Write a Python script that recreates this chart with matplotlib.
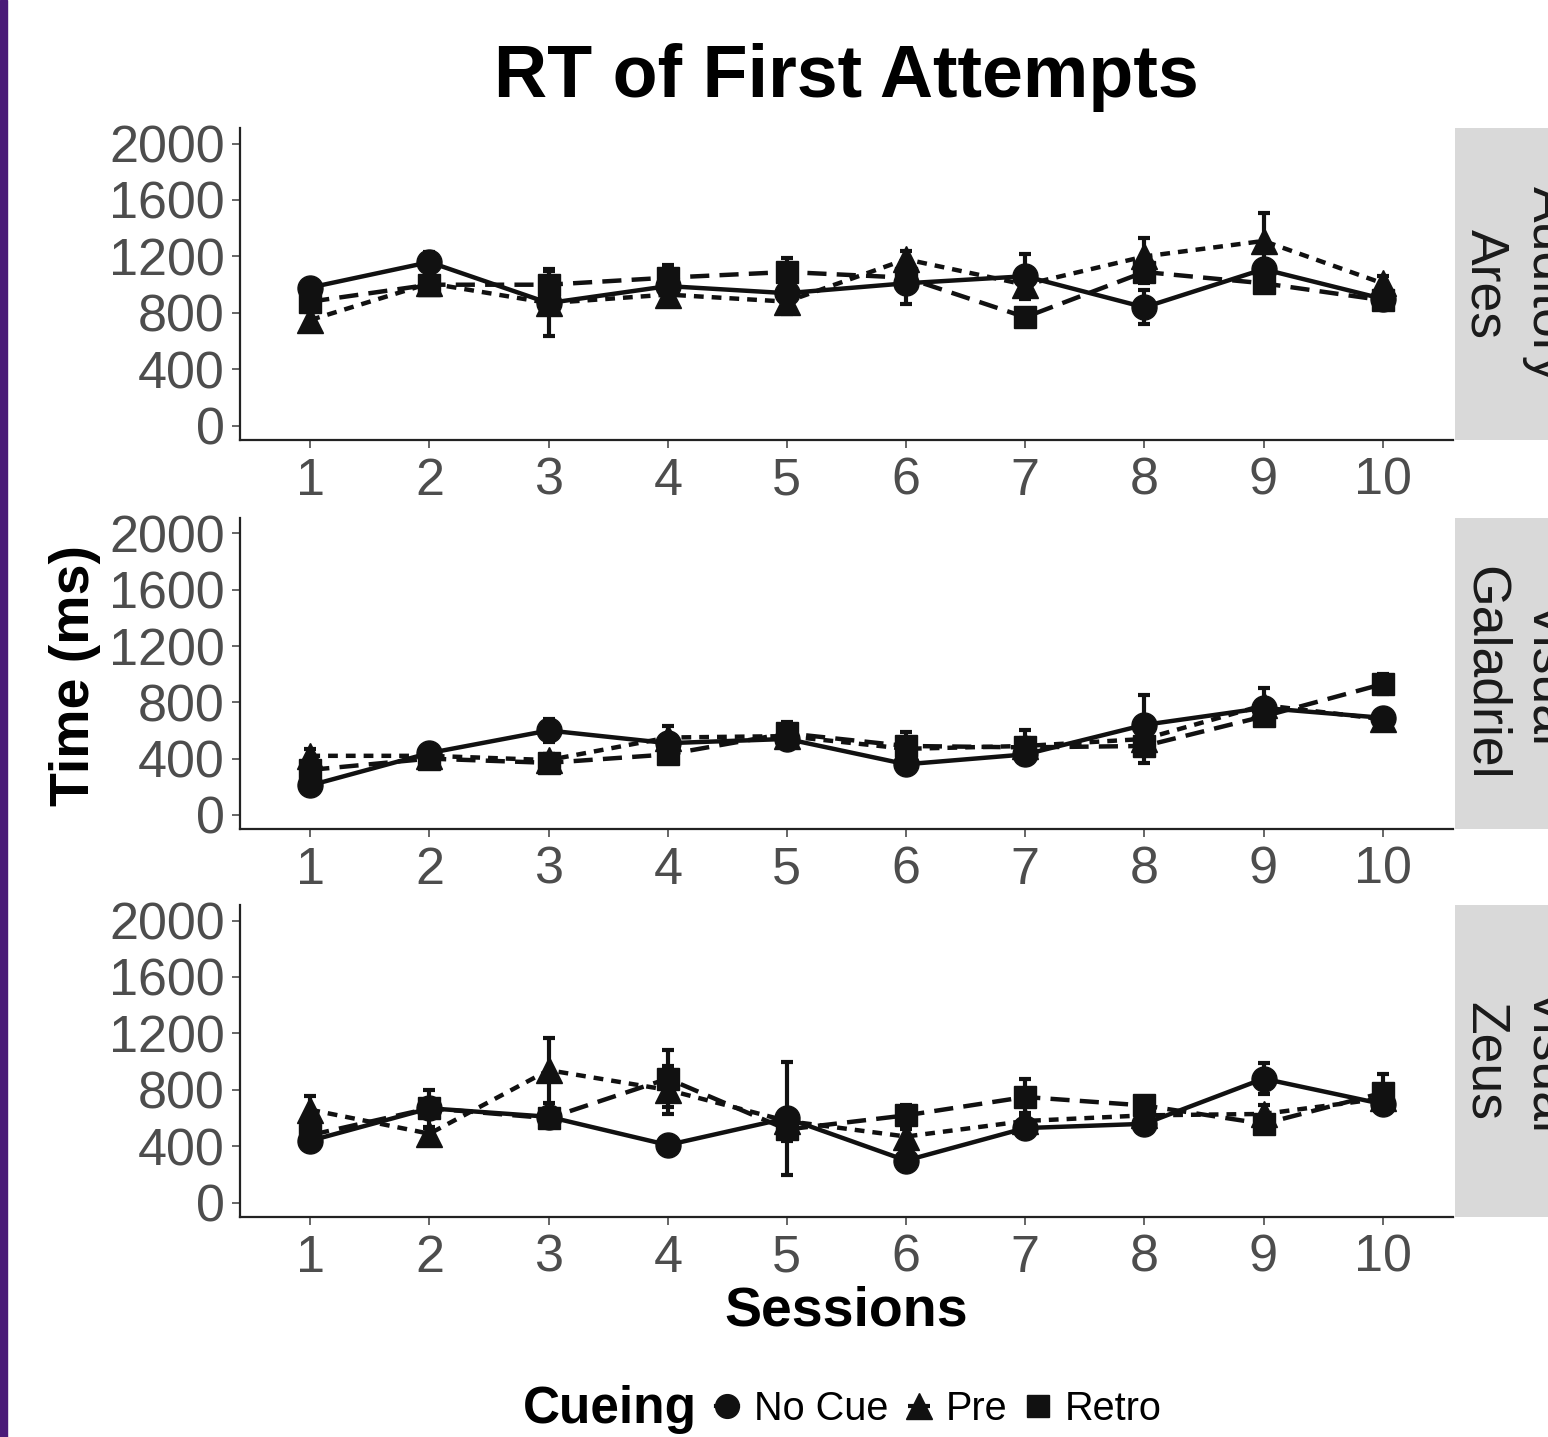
import matplotlib
matplotlib.use("Agg")
import matplotlib.pyplot as plt
from matplotlib.lines import Line2D
from matplotlib.patches import Rectangle
import numpy as np

plt.rcParams['font.family'] = ['Liberation Sans', 'DejaVu Sans']

sessions = [1, 2, 3, 4, 5, 6, 7, 8, 9, 10]
cue_names = ["No Cue", "Pre", "Retro"]
panel_labels = ["Auditory\nAres", "Visual\nGaladriel", "Visual\nZeus"]

# Ares
ares_nocue = [980, 1160, 870, 990, 940, 1010, 1060, 840, 1110, 900]
ares_nocue_se = [40, 70, 60, 50, 50, 150, 160, 120, 60, 40]
ares_pre = [750, 1010, 870, 930, 880, 1180, 1000, 1200, 1310, 1010]
ares_pre_se = [60, 50, 230, 70, 90, 60, 60, 130, 200, 50]
ares_retro = [880, 1000, 1000, 1050, 1090, 1050, 770, 1090, 1010, 890]
ares_retro_se = [60, 50, 110, 90, 100, 60, 40, 80, 50, 40]

# Galadriel
gal_nocue = [210, 440, 600, 510, 540, 360, 430, 640, 760, 690]
gal_nocue_se = [40, 40, 80, 40, 60, 40, 60, 210, 60, 50]
gal_pre = [420, 420, 390, 550, 560, 470, 490, 540, 780, 680]
gal_pre_se = [50, 40, 40, 80, 50, 50, 60, 60, 120, 60]
gal_retro = [320, 400, 370, 430, 580, 490, 480, 490, 700, 930]
gal_retro_se = [40, 40, 60, 60, 80, 100, 120, 120, 60, 70]

# Zeus
zeus_nocue = [440, 670, 610, 410, 600, 300, 530, 560, 880, 700]
zeus_nocue_se = [40, 60, 50, 30, 400, 70, 50, 40, 110, 60]
zeus_pre = [660, 490, 940, 800, 580, 470, 580, 620, 630, 740]
zeus_pre_se = [100, 40, 230, 170, 60, 50, 60, 50, 60, 60]
zeus_retro = [480, 670, 600, 880, 520, 620, 750, 690, 560, 780]
zeus_retro_se = [50, 130, 40, 200, 80, 70, 130, 60, 50, 130]

panels = [
    [(ares_nocue, ares_nocue_se), (ares_pre, ares_pre_se), (ares_retro, ares_retro_se)],
    [(gal_nocue, gal_nocue_se), (gal_pre, gal_pre_se), (gal_retro, gal_retro_se)],
    [(zeus_nocue, zeus_nocue_se), (zeus_pre, zeus_pre_se), (zeus_retro, zeus_retro_se)],
]

styles = [
    dict(marker='o', ls='-', ms=18),
    dict(marker='^', ls=(0, (2.2, 1.8)), ms=19),
    dict(marker='s', ls=(0, (4.3, 2.3)), ms=16),
]

W, H = 1548, 1437
fig = plt.figure(figsize=(W / 100, H / 100), dpi=100)
fig.patch.set_facecolor('white')

# purple edge
fig.add_artist(Rectangle((0, 0), 7 / W, 1, transform=fig.transFigure,
                         color='#4a1a78', zorder=0))

left, right = 240, 1453
tops = [128, 518, 905]
bottoms = [440, 829, 1217]
strip_l, strip_r = 1455, 1577

tick_color = '#4D4D4D'
for i in range(3):
    ax = fig.add_axes([left / W, 1 - bottoms[i] / H, (right - left) / W,
                       (bottoms[i] - tops[i]) / H])
    for j, (vals, se) in enumerate(panels[i]):
        st = styles[j]
        ax.errorbar(sessions, vals, yerr=se, color='#111111', lw=3.2,
                    ls=st['ls'], marker=st['marker'], ms=st['ms'],
                    elinewidth=3.0, capsize=4, capthick=3.0,
                    dash_capstyle='butt')
    ax.set_xlim(0.41, 10.59)
    ax.set_ylim(-100, 2110)
    ax.set_xticks(sessions)
    ax.set_yticks([0, 400, 800, 1200, 1600, 2000])
    ax.tick_params(axis='both', labelsize=37.5, colors=tick_color,
                   length=6, width=1.2, pad=5)
    ax.tick_params(axis='x', pad=6)
    for s in ['top', 'right']:
        ax.spines[s].set_visible(False)
    for s in ['left', 'bottom']:
        ax.spines[s].set_linewidth(1.6)
        ax.spines[s].set_color('#222222')
    # strip
    sax = fig.add_axes([strip_l / W, 1 - bottoms[i] / H, (strip_r - strip_l) / W,
                        (bottoms[i] - tops[i]) / H])
    sax.set_facecolor('#D9D9D9')
    sax.set_xticks([])
    sax.set_yticks([])
    for s in sax.spines.values():
        s.set_visible(False)
    sax.text(0.5, 0.5, panel_labels[i], rotation=-90, ha='center', va='center',
             fontsize=38.5, color='#1A1A1A', linespacing=1.3,
             transform=sax.transAxes)

fig.text(846 / W, 1 - 77 / H, "RT of First Attempts", ha='center', va='center',
         fontsize=53, fontweight='bold')
fig.text(75 / W, 1 - 675 / H, "Time (ms)", ha='center', va='center',
         fontsize=40, fontweight='bold', rotation=90)
fig.text(846 / W, 1 - 1311 / H, "Sessions", ha='center', va='center',
         fontsize=40, fontweight='bold')

fig.text(697 / W, 1 - 1409 / H, "Cueing", ha='right', va='center',
         fontsize=37, fontweight='bold')
handles = [Line2D([0], [0], color='#111111', lw=3.0, ls=styles[j]['ls'],
                  marker=styles[j]['marker'], ms=styles[j]['ms'] * 0.95)
           for j in range(3)]
fig.legend(handles, cue_names, loc='center left',
           bbox_to_anchor=(716 / W, 1 - 1409 / H), ncol=3, frameon=False,
           fontsize=28.5, handlelength=0.55, handletextpad=0.4,
           columnspacing=0.5, borderpad=0, borderaxespad=0)

fig.savefig("out.png", dpi=100)
